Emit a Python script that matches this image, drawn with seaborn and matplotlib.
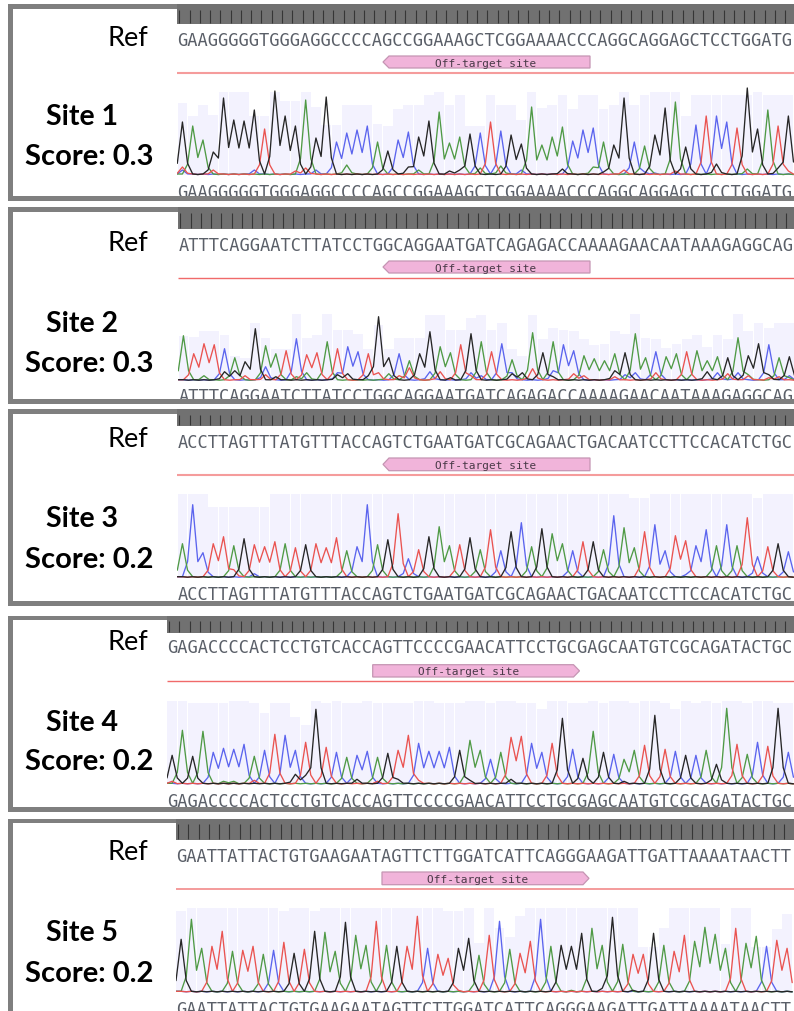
import pandas as pd
import matplotlib.pyplot as plt
from matplotlib.patches import Polygon, Rectangle
import seaborn as sns

# base calls
seq_1 = "GAAGGGGGTGGGAGGCCCCAGCCGGAAAGCTCGGAAAACCCAGGCAGGAGCTCCTGGATG"
seq_2 = "ATTTCAGGAATCTTATCCTGGCAGGAATGATCAGAGACCAAAAGAACAATAAAGAGGCAG"
seq_3 = "ACCTTAGTTTATGTTTACCAGTCTGAATGATCGCAGAACTGACAATCCTTCCACATCTGC"
seq_4 = "GAGACCCCACTCCTGTCACCAGTTCCCCGAACATTCCTGCGAGCAATGTCGCAGATACTGC"
seq_5 = "GAATTATTACTGTGAAGAATAGTTCTTGGATCATTCAGGGAAGATTGATTAAAATAACTT"

# peak height of the called base, one per base
peaks_1 = [53, 49, 35, 23, 77, 55, 54, 65, 46, 84, 59, 49, 75, 37, 78, 33, 42, 45, 49, 33,
           24, 35, 43, 38, 54, 63, 32, 38, 41, 42, 53, 44, 40, 31, 68, 30, 38, 48, 34, 45,
           47, 33, 30, 77, 33, 29, 40, 67, 73, 28, 50, 59, 59, 53, 47, 87, 46, 65, 49, 59]
peaks_2 = [45, 27, 37, 36, 32, 23, 19, 52, 35, 27, 30, 42, 26, 28, 39, 32, 34, 29, 27, 64,
           23, 27, 20, 27, 49, 34, 28, 36, 47, 39, 29, 37, 21, 18, 48, 28, 39, 36, 30, 25,
           22, 20, 27, 28, 47, 23, 29, 24, 27, 29, 30, 20, 24, 23, 43, 25, 37, 36, 23, 24]
peaks_3 = [34, 73, 25, 34, 41, 32, 39, 33, 31, 36, 34, 30, 33, 34, 30, 40, 27, 31, 73, 33,
           38, 64, 19, 28, 41, 51, 32, 33, 40, 28, 48, 27, 46, 55, 31, 49, 44, 34, 27, 36,
           36, 28, 62, 50, 30, 46, 53, 27, 42, 37, 32, 48, 32, 53, 32, 60, 21, 31, 34, 26]
peaks_4 = [29, 54, 28, 53, 32, 36, 35, 40, 28, 34, 50, 49, 34, 42, 75, 37, 32, 27, 29, 33,
           27, 31, 34, 49, 41, 33, 33, 37, 34, 44, 34, 25, 32, 47, 48, 41, 32, 41, 66, 35,
           26, 53, 32, 30, 25, 34, 39, 69, 35, 33, 29, 29, 34, 20, 76, 40, 30, 42, 38, 76, 32]
peaks_5 = [53, 73, 44, 46, 61, 41, 42, 46, 38, 42, 50, 39, 43, 61, 60, 41, 70, 57, 47, 71,
           47, 46, 46, 76, 44, 38, 34, 44, 54, 37, 57, 71, 43, 39, 51, 73, 46, 47, 46, 59,
           64, 47, 75, 48, 38, 38, 59, 47, 41, 57, 51, 65, 58, 44, 64, 49, 56, 46, 52, 44]

# height of the pale quality bar behind each base
quality_1 = [72, 59, 70, 60, 83, 83, 83, 59, 59, 83, 74, 74, 83, 68, 50, 50, 70, 70, 70, 51,
             49, 66, 70, 70, 80, 83, 70, 80, 49, 49, 80, 70, 70, 55, 83, 67, 70, 80, 66, 80,
             80, 66, 70, 83, 70, 80, 83, 83, 83, 59, 80, 80, 80, 80, 80, 80, 83, 80, 80, 80]
quality_2 = [45, 44, 50, 50, 46, 25, 23, 58, 43, 32, 32, 67, 43, 46, 67, 51, 51, 47, 32, 56,
             32, 43, 43, 43, 66, 66, 51, 51, 63, 66, 51, 58, 32, 25, 66, 42, 53, 51, 50, 42,
             36, 37, 50, 47, 67, 43, 42, 33, 37, 42, 46, 34, 46, 42, 67, 50, 58, 53, 58, 58]
quality_3 = [84, 84, 84, 71, 71, 71, 71, 71, 71, 84, 84, 84, 84, 84, 84, 84, 84, 84, 84, 84,
             84, 84, 84, 84, 84, 84, 84, 84, 84, 84, 84, 84, 84, 84, 84, 84, 84, 84, 84, 84,
             84, 84, 84, 84, 80, 80, 84, 84, 84, 84, 84, 84, 84, 84, 84, 84, 80, 84, 84, 84]
quality_4 = [83, 83, 81, 81, 81, 81, 83, 83, 81, 71, 81, 81, 67, 59, 83, 81, 83, 81, 81, 83,
             81, 81, 81, 81, 83, 83, 81, 81, 81, 83, 83, 81, 83, 83, 81, 81, 75, 83, 83, 81,
             81, 83, 81, 83, 83, 81, 83, 83, 81, 75, 83, 81, 83, 81, 83, 83, 81, 83, 83, 81, 81]
quality_5 = [81, 84, 84, 84, 84, 84, 84, 84, 84, 84, 81, 84, 84, 81, 84, 84, 84, 84, 84, 84,
             84, 84, 84, 84, 84, 84, 81, 81, 84, 49, 84, 64, 55, 76, 84, 84, 84, 84, 84, 84,
             84, 84, 84, 84, 84, 45, 45, 64, 84, 84, 84, 84, 84, 48, 84, 84, 45, 45, 63, 78]

# small off-channel bumps under the main peaks: base index, channel, height
noise_base_1 = [0, 0, 3, 7, 11, 12, 13, 16, 22, 23, 26, 27, 29, 31, 33, 37, 40, 41, 43, 45, 46, 48, 52, 55, 58, 59]
noise_call_1 = "TCTCTTCAGAGGAACGAGTCCTGAGT"
noise_height_1 = [8, 5, 5, 5, 4, 7, 5, 10, 8, 5, 4, 5, 7, 9, 5, 6, 8, 3, 5, 3, 2, 4, 11, 6, 7, 4]
noise_base_2 = [2, 4, 5, 6, 8, 8, 9, 11, 12, 15, 15, 16, 18, 19, 20, 21, 22, 24, 25, 26, 28, 28, 29, 32,
                32, 33, 34, 36, 36, 38, 39, 42, 42, 43, 44, 46, 51, 52, 53, 54, 55, 55, 57, 57, 58, 59, 59]
noise_call_2 = "AGGTCTGAAGCGGTATTCTGTCCGCGTGCTTGTCCTGCTCATTGTAC"
noise_height_2 = [5, 9, 10, 5, 14, 6, 4, 4, 8, 6, 8, 7, 5, 8, 7, 5, 13, 9, 9, 3, 5, 8, 5, 7,
                  8, 8, 12, 4, 10, 7, 5, 10, 4, 6, 8, 8, 9, 8, 7, 8, 6, 5, 3, 6, 4, 3, 5]
noise_base_3 = [5, 7, 49]
noise_call_3 = "TCC"
noise_height_3 = [8, 4, 3]
noise_base_4 = [0, 5, 6, 8, 12, 13, 18, 20, 22, 24, 29, 33, 44]
noise_call_4 = "TAATGGGTGTGGG"
noise_height_4 = [3, 3, 3, 4, 10, 9, 5, 3, 5, 4, 4, 5, 3]
noise_base_5 = [27, 38, 41, 44]
noise_call_5 = "TAGG"
noise_height_5 = [2, 2, 4, 2]

site_labels = ["Site 1", "Site 2", "Site 3", "Site 4", "Site 5"]
score_labels = ["Score: 0.3", "Score: 0.3", "Score: 0.2", "Score: 0.2", "Score: 0.2"]

# pixel layout of each panel, top to bottom of the page
layout = [
    dict(seq=seq_1, peaks=peaks_1, qual=quality_1, nb=noise_base_1, nc=noise_call_1, nh=noise_height_1,
         x0=177.3, top=4.7, inner=10, ruler=25, seq_top=46, band=(57, 69), arrow=(383, 590, "left"), label_x=486,
         red=74, red_lw=1.5, red_c="#f59c9c", base=176, seq_bot=197.5, bot=(196.8, 201.7),
         ref_y=36, site_y=115, score_y=155),
    dict(seq=seq_2, peaks=peaks_2, qual=quality_2, nb=noise_base_2, nc=noise_call_2, nh=noise_height_2,
         x0=178.3, top=207.7, inner=213, ruler=230, seq_top=251, band=(262, 274), arrow=(383, 590, "left"), label_x=486,
         red=279.3, red_lw=1.0, red_c="#f06a6a", base=381.7, seq_bot=402.5, bot=(400, 405),
         ref_y=241.7, site_y=321.7, score_y=361.7),
    dict(seq=seq_3, peaks=peaks_3, qual=quality_3, nb=noise_base_3, nc=noise_call_3, nh=noise_height_3,
         x0=177.3, top=409.7, inner=415, ruler=426.7, seq_top=447.7, band=(459, 471.7), arrow=(383, 590, "left"), label_x=486,
         red=475.7, red_lw=1.5, red_c="#f59c9c", base=578.7, seq_bot=600, bot=(601.7, 606.7),
         ref_y=437.7, site_y=517, score_y=557.7),
    dict(seq=seq_4, peaks=peaks_4, qual=quality_4, nb=noise_base_4, nc=noise_call_4, nh=noise_height_4,
         x0=167, top=616.7, inner=621.3, ruler=633.5, seq_top=653.3, band=(665.7, 678), arrow=(372.7, 579.5, "right"), label_x=468.5,
         red=682, red_lw=1.0, red_c="#f06a6a", base=785.3, seq_bot=806.7, bot=(808, 813),
         ref_y=640, site_y=720.7, score_y=760),
    dict(seq=seq_5, peaks=peaks_5, qual=quality_5, nb=noise_base_5, nc=noise_call_5, nh=noise_height_5,
         x0=176, top=819.7, inner=824.3, ruler=841, seq_top=861.7, band=(873, 885.7), arrow=(382, 589, "right"), label_x=478,
         red=890, red_lw=1.2, red_c="#f28a8a", base=993.3, seq_bot=1015, bot=(1013, 1018),
         ref_y=851, site_y=931, score_y=971.7),
]

WIDTH, HEIGHT = 794, 1012
CELL = 10.27  # pixels per base
FRAME = "#7f7f7f"
base_colors = {"G": "#262626", "A": "#4f9a45", "T": "#ea5350", "C": "#5b64ee"}


def trace_table(seq, peaks, noise_base, noise_call, noise_height):
    """Long table of the four channels: peak on the called base, shoulder half way to the next."""
    rows = []
    for ch in "CATG":
        level = [1.0] * len(seq)
        for i, call in enumerate(seq):
            if call == ch:
                level[i] = peaks[i]
        for i, call, h in zip(noise_base, noise_call, noise_height):
            if call == ch:
                level[i] = h
        rows.append((-0.5, ch, max(1.0, 0.22 * level[0])))
        for i, h in enumerate(level):
            rows.append((i, ch, h))
            next_h = level[i + 1] if i + 1 < len(level) else 1.0
            rows.append((i + 0.5, ch, max(0.5 * min(h, next_h), 0.22 * max(h, next_h))))
    return pd.DataFrame(rows, columns=["pos", "base", "signal"])


sns.set_theme(style="white")
plt.rcParams["font.family"] = ["Lato", "DejaVu Sans"]

fig = plt.figure(figsize=(WIDTH / 100, HEIGHT / 100), dpi=100, facecolor="white")

# page layer in pixel coordinates for frames, rulers and labels
page = fig.add_axes([0, 0, 1, 1], zorder=3)
page.set_xlim(0, WIDTH)
page.set_ylim(HEIGHT, 0)
page.axis("off")
page.patch.set_alpha(0)

for p, site, score in zip(layout, site_labels, score_labels):
    seq = p["seq"]
    x0 = p["x0"]

    # chromatogram panel, y units are pixels above the baseline
    ax = fig.add_axes([x0 / WIDTH, 1 - (p["base"] + 3) / HEIGHT, (WIDTH - x0) / WIDTH, 95 / HEIGHT], zorder=1)
    bars = pd.DataFrame({"pos": range(len(seq)), "quality": p["qual"]})
    sns.barplot(data=bars, x="pos", y="quality", native_scale=True, width=0.95, color="#f3f2fe",
                saturation=1, linewidth=0, ax=ax)
    sns.lineplot(data=trace_table(seq, p["peaks"], p["nb"], p["nc"], p["nh"]), x="pos", y="signal", hue="base",
                 hue_order=list("CATG"), palette=base_colors, estimator=None, sort=False, linewidth=0.95,
                 legend=False, ax=ax)
    ax.set_xlim(-0.5, (WIDTH - x0) / CELL - 0.5)
    ax.set_ylim(-3, 92)
    ax.axis("off")

    # frame around the panel
    bottom = p["bot"]
    page.add_patch(Rectangle((8, p["top"]), WIDTH - 8, p["inner"] - p["top"], color=FRAME, lw=0, zorder=5))
    page.add_patch(Rectangle((8, bottom[0]), WIDTH - 8, bottom[1] - bottom[0], color=FRAME, lw=0, zorder=5))
    page.add_patch(Rectangle((8, p["top"]), 4.7, bottom[1] - p["top"], color=FRAME, lw=0, zorder=5))

    # dark ruler with one tick per base
    page.add_patch(Rectangle((x0, p["top"]), WIDTH - x0, p["ruler"] - p["top"], color="#717171", lw=0, zorder=6))
    page.vlines([x0 + 2 + k * CELL for k in range(len(seq))], p["inner"] + 1, p["ruler"] - 1,
                color="#363636", lw=0.8, zorder=7)

    # sequence rows
    for y in (p["seq_top"], p["seq_bot"]):
        page.text(x0 + 0.3, y, seq, family="DejaVu Sans Mono", fontsize=12.28, color="#5a5f68",
                  ha="left", va="baseline", zorder=2)

    # annotation arrow
    left, right, side = p["arrow"]
    y0, y1 = p["band"]
    mid = (y0 + y1) / 2
    if side == "left":
        pts = [(left, mid), (left + 6, y0), (right, y0), (right, y1), (left + 6, y1)]
    else:
        pts = [(left, y0), (right - 6, y0), (right, mid), (right - 6, y1), (left, y1)]
    page.add_patch(Polygon(pts, closed=True, facecolor="#f1b4da", edgecolor="#c595b3", lw=0.9, zorder=2))
    page.text(p["label_x"], mid + 0.5, "Off-target site", family="DejaVu Sans Mono", fontsize=7.98,
              color="#4a3a48", ha="center", va="center", zorder=3)

    page.hlines(p["red"], x0, WIDTH, color=p["red_c"], lw=p["red_lw"], zorder=2)

    # left hand labels
    page.text(128, p["ref_y"] + 2, "Ref", fontsize=19.5, color="black", ha="center", va="center", zorder=3)
    page.text(82.5, p["site_y"] + 2, site, fontsize=20.5, fontweight="bold", color="black", ha="center", va="center", zorder=3)
    page.text(89, p["score_y"] + 2, score, fontsize=21, fontweight="bold", color="black", ha="center", va="center", zorder=3)

fig.savefig("out.png", dpi=100, facecolor="white")
